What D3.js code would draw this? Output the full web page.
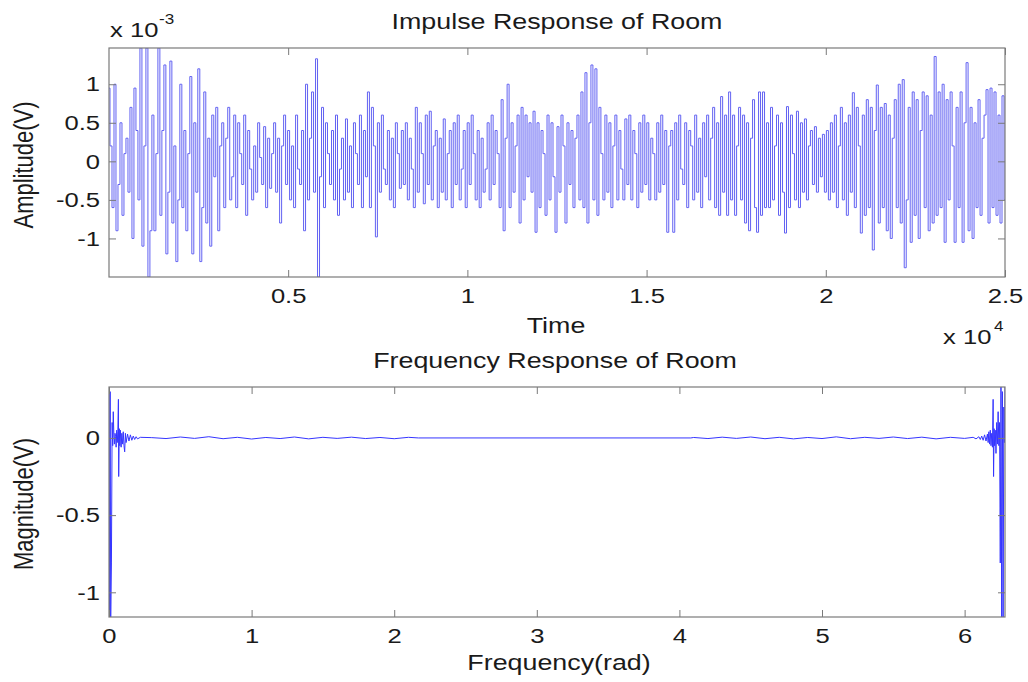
<!DOCTYPE html>
<html>
<head>
<meta charset="utf-8">
<script src="https://cdn.jsdelivr.net/npm/d3@7"></script>
<style>
  html, body { margin: 0; padding: 0; background: #ffffff; }
  svg { display: block; font-family: "Liberation Sans", Arial, Helvetica, sans-serif; }
</style>
</head>
<body>
<svg id="chart" width="1028" height="682"></svg>
<script>
// ---- Impulse response: decimated samples, in units of 1e-3 V, evenly spaced in time ----
const impulseAmp = [
  0.95, 0.2, -0.6, 1.0, -0.9, -0.3, 0.5, -0.7, 0.1, 0.3, -0.4, 0.7, -1.0, 0.95, 0.4, -0.5, 1.47, -1.1, 0.2, 1.47, -1.5, -0.9, 0.6, -0.9, 0.1, 1.47, -0.7, 0.4, 1.25, -1.2,
  -0.4, 1.3, -0.8, 0.2, -1.3, -0.5, 1.0, -0.6, 0.4, -0.9, 0.1, 1.1, -1.2, 0.5, -0.4, 1.2, -1.3, -0.6, 0.9, -0.8, 0.3, -1.1, 0.6, -0.2, 0.7, -0.9, 0.2, 0.5, -0.6, 0.3,
  0.7, -0.5, -0.2, 0.6, -0.6, 0.5, 0.1, -0.3, 0.6, -0.7, 0.4, -0.1, -0.5, 0.2, -0.4, 0.5, 0.05, -0.3, 0.45, -0.6, 0.3, -0.35, 0.1, 0.5, -0.4, 0.3, -0.8, 0.2, 0.6, -0.3,
  0.4, -0.5, 0.2, -0.6, 0.6, -0.1, -0.3, 0.4, -0.9, 1.0, -0.5, 0.3, 0.9, -0.4, 1.33, -1.5, -0.2, 0.7, -0.6, 0.5, 0.1, -0.3, 0.4, -0.5, 0.6, -0.7, -0.1, 0.3, -0.5, 0.55,
  -0.4, 0.2, -0.6, 0.5, 0.1, -0.3, 0.6, -0.6, 0.4, -0.2, 0.9, -0.6, 0.7, 0.2, -0.98, 0.5, -0.4, 0.6, -0.1, -0.3, 0.4, -0.5, 0.3, -0.6, 0.5, 0.1, -0.35, 0.4, -0.3, 0.5,
  -0.5, 0.3, -0.1, -0.6, 0.7, -0.4, 0.5, 0.1, -0.55, 0.6, -0.3, 0.65, -0.5, 0.2, 0.4, -0.6, 0.3, -0.4, 0.55, -0.5, 0.1, 0.4, -0.6, 0.5, -0.3, 0.6, -0.5, -0.1, 0.4, -0.6,
  0.5, -0.3, 0.6, 0.1, -0.5, 0.4, -0.6, 0.3, -0.4, -0.1, 0.5, -0.5, 0.6, -0.3, 0.4, 0.1, -0.6, 0.8, -0.9, 0.3, 1.0, -0.6, 0.5, -0.4, 0.2, 0.6, -0.8, 0.7, -0.5, 0.6,
  -0.2, 0.5, -0.4, 0.65, -0.92, 0.5, -0.6, 0.4, 0.1, -0.7, 0.6, -0.5, 0.5, -0.2, -0.92, 0.45, -0.4, 0.6, 0.2, -0.8, 0.5, -0.3, 0.4, -0.6, 0.3, 0.6, -0.5, 0.9, -0.6, 1.15,
  -0.8, 0.5, 1.25, -0.5, 1.2, -0.7, 0.7, 0.1, -0.5, 0.6, -0.4, 0.5, -0.6, 0.2, 0.6, -0.5, 0.4, -0.1, -0.5, 0.55, -0.3, 0.6, -0.5, 0.4, 0.1, -0.6, 0.5, -0.4, 0.6, -0.3,
  0.5, -0.5, 0.3, 0.1, -0.5, 0.5, -0.4, 0.6, -0.3, 0.4, -0.92, 0.2, 0.4, -0.92, 0.5, -0.5, 0.6, -0.1, -0.3, 0.5, -0.6, 0.4, 0.2, -0.5, 0.6, -0.4, 0.3, -0.6, 0.5, -0.2,
  0.6, -0.5, 0.3, 0.7, -0.6, 0.5, -0.7, 0.84, -0.4, 0.6, -0.7, 0.9, -0.5, 0.6, -0.7, 0.2, 0.7, -0.5, 0.6, -0.8, 0.5, -0.9, 0.3, 0.8, -0.6, -0.92, 0.9, -0.7, 0.9, -0.6,
  0.5, -0.6, 0.7, -0.5, 0.2, 0.6, -0.7, 0.5, -0.4, -0.93, 0.71, -0.6, 0.6, 0.1, -0.5, 0.65, -0.6, 0.5, -0.4, 0.55, -0.5, 0.2, 0.4, -0.3, 0.45, -0.4, 0.3, -0.2, 0.35, -0.4,
  0.4, -0.5, 0.5, -0.4, 0.6, -0.6, 0.2, 0.7, -0.5, 0.5, -0.7, 0.6, -0.4, 0.89, -0.6, 0.7, 0.2, -0.93, 0.6, -0.7, 0.8, -0.6, 0.7, -1.15, 0.4, 0.99, -0.8, 0.7, -0.6, 0.75,
  -0.9, 0.6, -1.0, 0.3, 0.8, -0.6, 1.0, -0.8, 1.06, -1.38, -0.5, 0.7, -1.05, 0.9, -0.7, 0.8, -1.0, 0.4, 0.9, -0.6, 0.85, -0.9, 0.6, -0.8, 1.36, -0.7, 0.9, -0.6, 1.0, -1.05,
  0.8, -0.5, 0.9, 0.2, -1.05, 0.7, -0.6, 0.9, -1.05, 0.5, 1.28, -0.9, 0.7, -1.0, 0.5, -0.6, 0.8, -0.7, 0.3, 0.6, 0.93, -0.8, 0.95, -0.6, 0.9, -0.7, 0.6, -0.8, 0.85, -0.5
];
const timeSpan = [1, 25000];
const timeTicks = [5000, 10000, 15000, 20000, 25000];
const ampDomain = [-1.5, 1.47];
const ampTicks = [-1, -0.5, 0, 0.5, 1];

// ---- Frequency response (real part), radians 0..2π ----
const freqRad = [
  0, 0.004, 0.008, 0.012, 0.017, 0.022, 0.026, 0.03, 0.034, 0.038, 0.042, 0.046, 0.05, 0.054, 0.058, 0.062,
  0.066, 0.068, 0.072, 0.076, 0.08, 0.085, 0.09, 0.095, 0.1, 0.105, 0.11, 0.115, 0.12, 0.13, 0.14, 0.15,
  0.16, 0.17, 0.18, 0.19, 0.2, 0.22,
  0.3, 0.4, 0.5, 0.6, 0.7, 0.8, 0.9, 1.0, 1.1, 1.2, 1.3, 1.4, 1.5, 1.6, 1.7, 1.8, 1.9, 2.0, 2.1, 2.17,
  4.08, 4.1, 4.2, 4.3, 4.4, 4.5, 4.6, 4.7, 4.8, 4.9, 5.0, 5.1, 5.2, 5.3, 5.4, 5.5, 5.6, 5.7, 5.8, 5.9, 6.0,
  6.06, 6.08, 6.1, 6.11, 6.12, 6.13, 6.14, 6.15, 6.16, 6.165, 6.17, 6.175, 6.18, 6.185, 6.19, 6.195, 6.2,
  6.203, 6.207, 6.21, 6.215, 6.22, 6.225, 6.23, 6.235, 6.24, 6.245, 6.25, 6.255, 6.26, 6.265, 6.27, 6.275,
  6.279, 6.2832
];
const magnitude = [
  0.33, -1.16, 0.3, -1.16, -0.81, 0.1, -0.05, 0.17, 0.02, -0.04, 0.03, 0.01, -0.06, 0.05, -0.03, 0.04,
  0.25, -0.25, 0.06, -0.05, 0.05, -0.06, 0.03, -0.04, 0.04, -0.05, -0.09, 0.03, -0.03, 0.025, -0.02, 0.02,
  -0.015, 0.012, -0.01, 0.008, -0.006, 0.004,
  0.002, -0.004, 0.006, -0.003, 0.008, -0.005, 0.004, -0.007, 0.003, -0.004, 0.006, -0.006, 0.004, -0.003, 0.005, -0.004, 0.003, -0.005, 0.004, 0,
  0, 0.003, -0.004, 0.005, -0.003, 0.006, -0.005, 0.004, -0.006, 0.003, -0.004, 0.007, -0.005, 0.004, -0.003, 0.006, -0.004, 0.005, -0.006, 0.004, -0.003,
  0.004, -0.006, 0.008, -0.01, 0.012, -0.015, 0.02, -0.02, 0.025, -0.03, 0.04, -0.04, 0.05, -0.05, 0.03, -0.06, 0.25,
  -0.25, 0.06, -0.05, 0.05, -0.1, 0.1, -0.04, 0.17, -0.05, 0.1, -0.81, 0.33, -1.16, 0.3, -1.16, 0.2,
  -0.03, 0.33
];
const freqSpan = [0, 2 * Math.PI];
const freqTicks = [0, 1, 2, 3, 4, 5, 6];
const magDomain = [-1.16, 0.33];
const magTicks = [-1, -0.5, 0];

// ---- Layout & style ----
const SX = 1.22;               // horizontal stretch applied to all text
const AXIS_COLOR = "#7a7a7a";
const TEXT_COLOR = "#1a1a1a";
const TICK_LEN = 7;
const top1 = { left: 109, right: 1005, top: 48, bottom: 277 };
const bot1 = { left: 109, right: 1005, top: 387, bottom: 617 };

const svg = d3.select("#chart");

function addText(x, y, str, size, opts = {}) {
  return svg.append("text")
    .attr("transform", `translate(${x},${y}) scale(${SX},1)` + (opts.rotate ? " rotate(-90)" : ""))
    .attr("text-anchor", opts.anchor || "middle")
    .attr("fill", TEXT_COLOR)
    .style("font-size", size + "px")
    .text(str);
}

function drawFrame(box, xScale, yScale, xTicks, yTicks, xFmt, yFmt, clipId) {
  svg.append("clipPath").attr("id", clipId)
    .append("rect")
    .attr("x", box.left).attr("y", box.top)
    .attr("width", box.right - box.left).attr("height", box.bottom - box.top);

  const mk = (sel) => {
    sel.select(".domain").remove();
    sel.selectAll(".tick line").attr("stroke", AXIS_COLOR).attr("stroke-width", 1);
  };

  // bottom, with labels
  const gb = svg.append("g").attr("transform", `translate(0,${box.bottom})`)
    .call(d3.axisBottom(xScale).tickValues(xTicks).tickSizeInner(-TICK_LEN).tickSizeOuter(0)
      .tickPadding(11).tickFormat(xFmt));
  mk(gb);
  gb.selectAll(".tick text")
    .attr("fill", TEXT_COLOR)
    .attr("transform", `scale(${SX},1)`)
    .style("font-size", "21px")
    .style("font-family", '"Liberation Sans", Arial, sans-serif');

  // top, ticks only
  const gt = svg.append("g").attr("transform", `translate(0,${box.top})`)
    .call(d3.axisTop(xScale).tickValues(xTicks).tickSizeInner(-TICK_LEN).tickSizeOuter(0).tickFormat(""));
  mk(gt);

  // left, with labels
  const gl = svg.append("g").attr("transform", `translate(${box.left},0)`)
    .call(d3.axisLeft(yScale).tickValues(yTicks).tickSizeInner(-TICK_LEN).tickSizeOuter(0)
      .tickPadding(9).tickFormat(yFmt));
  mk(gl);
  gl.selectAll(".tick text")
    .attr("fill", TEXT_COLOR)
    .attr("x", -9 / SX)
    .attr("transform", `scale(${SX},1)`)
    .style("font-size", "21px")
    .style("font-family", '"Liberation Sans", Arial, sans-serif');

  // right, ticks only
  const gr = svg.append("g").attr("transform", `translate(${box.right},0)`)
    .call(d3.axisRight(yScale).tickValues(yTicks).tickSizeInner(-TICK_LEN).tickSizeOuter(0).tickFormat(""));
  mk(gr);

  // box
  svg.append("rect")
    .attr("x", box.left).attr("y", box.top)
    .attr("width", box.right - box.left).attr("height", box.bottom - box.top)
    .attr("fill", "none").attr("stroke", AXIS_COLOR).attr("stroke-width", 1.2);
}

// ================= Impulse response =================
const xT = d3.scaleLinear().domain(timeSpan).range([top1.left, top1.right]);
const yA = d3.scaleLinear().domain(ampDomain).range([top1.bottom, top1.top]);
const idxToTime = d3.scaleLinear().domain([0, impulseAmp.length - 1]).range(timeSpan);

svg.append("path")
  .datum(impulseAmp)
  .attr("clip-path", "url(#clipTop)")
  .attr("fill", "none")
  .attr("stroke", "#6262f2")
  .attr("stroke-width", 1)
  .attr("d", d3.line()
    .x((d, i) => xT(idxToTime(i)))
    .y(d => yA(d))
    .curve(d3.curveStep));

drawFrame(top1, xT, yA, timeTicks, ampTicks, d => String(d / 1e4), d => String(d), "clipTop");

addText(557, 29, "Impulse Response of Room", 22);
addText(556, 333, "Time", 22);
addText(33, 165, "Amplitude(V)", 22, { rotate: true });
addText(110, 37, "x 10", 21, { anchor: "start" });
addText(159, 24, "-3", 14, { anchor: "start" });
addText(943, 344, "x 10", 21, { anchor: "start" });
addText(994, 331, "4", 14, { anchor: "start" });

// ================= Frequency response =================
const xF = d3.scaleLinear().domain(freqSpan).range([bot1.left, bot1.right]);
const yM = d3.scaleLinear().domain(magDomain).range([bot1.bottom, bot1.top]);

svg.append("path")
  .datum(d3.zip(freqRad, magnitude))
  .attr("clip-path", "url(#clipBot)")
  .attr("fill", "none")
  .attr("stroke", "#3535ff")
  .attr("stroke-width", 1)
  .attr("d", d3.line().x(d => xF(d[0])).y(d => yM(d[1])));

drawFrame(bot1, xF, yM, freqTicks, magTicks, d => String(d), d => String(d), "clipBot");

addText(555, 368, "Frequency Response of Room", 22);
addText(559, 670, "Frequency(rad)", 22);
addText(33, 504, "Magnitude(V)", 22, { rotate: true });
</script>
</body>
</html>
